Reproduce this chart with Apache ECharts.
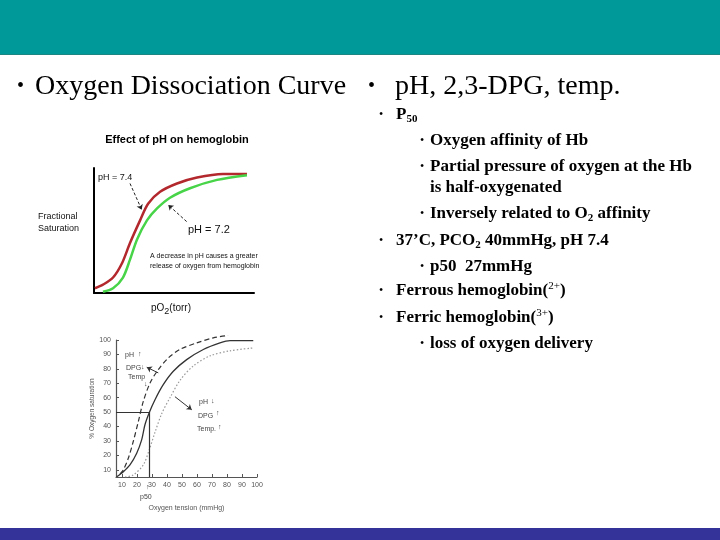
<!DOCTYPE html>
<html>
<head>
<meta charset="utf-8">
<script src="https://cdn.jsdelivr.net/npm/echarts@6/dist/echarts.min.js"></script>
<style>
  html, body { margin: 0; background: #fff; }
  #chart { width: 720px; height: 540px; }
</style>
</head>
<body>
<div id="chart"></div>
<script>
// --- "Effect of pH on hemoglobin" (pO2 0-100, fractional saturation) ---
const ph74X = [0.6, 5.6, 11.9, 17.5, 22.5, 28.8, 33.8, 41.3, 51.9, 64.4, 80.6, 95.6];
const ph74Y = [0.04, 0.07, 0.13, 0.25, 0.42, 0.61, 0.75, 0.85, 0.92, 0.97, 1.0, 1.0];
const ph72X = [5.6, 11.9, 18.1, 22.5, 26.9, 33.1, 39.4, 47.5, 60, 76.9, 95.6];
const ph72Y = [0.01, 0.04, 0.13, 0.28, 0.45, 0.61, 0.71, 0.80, 0.88, 0.95, 0.99];

// --- classic dissociation curve (oxygen tension mmHg, % saturation) ---
const normalX = [6.5, 10.9, 15.3, 19.8, 23.1, 25.3, 28.2, 32, 37.5, 44.2, 53.1, 64.2, 75.3, 82, 97.5];
const normalY = [5.2, 8.7, 13.4, 21.5, 30.7, 41.2, 49.7, 58.6, 69, 78.3, 86.4, 93.4, 98, 99.6, 99.6];
const leftX = [8.7, 10.9, 14.2, 17.5, 20.9, 24.2, 28.7, 34.2, 40.9, 48.7, 59.8, 70.9, 80.7];
const leftY = [7.1, 9.9, 18, 29.6, 43.5, 57.4, 70.2, 79.5, 87.6, 93.5, 98, 101.5, 103.1];
const rightX = [12, 17.5, 24.2, 28.2, 32, 36.5, 42, 48.7, 57.5, 68.7, 82, 97.5];
const rightY = [5, 6.4, 13.4, 24, 36, 49, 60, 72, 82, 89, 92.5, 94.5];
const p50 = 28;
const tensionTicks = [10, 20, 30, 40, 50, 60, 70, 80, 90, 100];
const saturationTicks = [10, 20, 30, 40, 50, 60, 70, 80, 90, 100];

const pairs = (xs, ys) => xs.map((x, i) => [x, ys[i]]);

const serif = "'Liberation Serif', 'Times New Roman', serif";
const sans = "'Liberation Sans', Arial, sans-serif";

// right-hand bullet list
const notes = [
  { lvl: 1, y: 115, text: '{b|P}{bs|50}' },
  { lvl: 2, y: 141, text: '{b|Oxygen affinity of Hb}' },
  { lvl: 2, y: 167, text: '{b|Partial pressure of oxygen at the Hb}' },
  { lvl: 0, y: 188, text: '{b|is half-oxygenated}' },
  { lvl: 2, y: 214, text: '{b|Inversely related to O}{bs|2}{b| affinity}' },
  { lvl: 1, y: 241, text: '{b|37’C, PCO}{bs|2}{b| 40mmHg, pH 7.4}' },
  { lvl: 2, y: 267, text: '{b|p50  27mmHg}' },
  { lvl: 1, y: 291, text: '{b|Ferrous hemoglobin(}{sp|2+}{b|)}' },
  { lvl: 1, y: 318, text: '{b|Ferric hemoglobin(}{sp|3+}{b|)}' },
  { lvl: 2, y: 344, text: '{b|loss of oxygen delivery}' }
];
const noteRich = {
  b: { fontFamily: serif, fontSize: 17, fontWeight: 'bold', fill: '#000' },
  bs: { fontFamily: serif, fontSize: 11, fontWeight: 'bold', fill: '#000', padding: [8, 0, 0, 0] },
  sp: { fontFamily: serif, fontSize: 11, fill: '#000', padding: [0, 0, 10, 0] }
};

const graphic = [
  { type: 'rect', shape: { x: 0, y: 0, width: 720, height: 54 }, style: { fill: '#009999' } },
  { type: 'rect', shape: { x: 0, y: 54, width: 720, height: 1 }, style: { fill: '#1c8683' } },
  { type: 'rect', shape: { x: 0, y: 528, width: 720, height: 12 }, style: { fill: '#333399' } },
  { type: 'text', x: 17, y: 87, style: { text: '•', font: '20px ' + serif, fill: '#000', verticalAlign: 'middle' } },
  { type: 'text', x: 35, y: 87, style: { text: 'Oxygen Dissociation Curve', font: '28px ' + serif, fill: '#000', verticalAlign: 'middle' } },
  { type: 'text', x: 368, y: 87, style: { text: '•', font: '20px ' + serif, fill: '#000', verticalAlign: 'middle' } },
  { type: 'text', x: 395, y: 87, style: { text: 'pH, 2,3-DPG, temp.', font: '28px ' + serif, fill: '#000', verticalAlign: 'middle' } },
  // top figure labels
  { type: 'text', x: 177, y: 140, style: { text: 'Effect of pH on hemoglobin', font: 'bold 11px ' + sans, fill: '#000', align: 'center', verticalAlign: 'middle' } },
  { type: 'text', x: 98, y: 178, style: { text: 'pH = 7.4', font: '9px ' + sans, fill: '#111', verticalAlign: 'middle' } },
  { type: 'text', x: 188, y: 230, style: { text: 'pH = 7.2', font: '11px ' + sans, fill: '#111', verticalAlign: 'middle' } },
  { type: 'text', x: 38, y: 217, style: { text: 'Fractional', font: '9px ' + sans, fill: '#111', verticalAlign: 'middle' } },
  { type: 'text', x: 38, y: 229, style: { text: 'Saturation', font: '9px ' + sans, fill: '#111', verticalAlign: 'middle' } },
  { type: 'text', x: 150, y: 256, style: { text: 'A decrease in pH causes a greater', font: '7px ' + sans, fill: '#111', verticalAlign: 'middle' } },
  { type: 'text', x: 150, y: 266, style: { text: 'release of oxygen from hemoglobin', font: '7px ' + sans, fill: '#111', verticalAlign: 'middle' } },
  {
    type: 'text', x: 151, y: 308,
    style: {
      text: '{n|pO}{s|2}{n|(torr)}', verticalAlign: 'middle',
      rich: {
        n: { fontFamily: sans, fontSize: 10, fill: '#111' },
        s: { fontFamily: sans, fontSize: 9, fill: '#111', padding: [7, 0, 0, 0] }
      }
    }
  }
];

// bottom figure annotations
const annotations = [
  ['pH', 125, 355], ['↑', 138, 354], ['DPG', 126, 368], ['↓', 141, 367], ['Temp', 128, 377], ['↓', 144, 384],
  ['pH', 199, 402], ['↓', 211, 401], ['DPG', 198, 416], ['↑', 216, 413], ['Temp.', 197, 429], ['↑', 218, 427],
  ['↑', 146, 487], ['p50', 140, 497]
];
annotations.forEach(([t, x, y]) => {
  graphic.push({ type: 'text', x, y, style: { text: t, font: '7px ' + sans, fill: '#444', verticalAlign: 'middle' } });
});

notes.forEach((n) => {
  if (n.lvl === 1) {
    graphic.push({ type: 'text', x: 379, y: n.y, style: { text: '•', font: '12px ' + serif, fill: '#000', verticalAlign: 'middle' } });
  } else if (n.lvl === 2) {
    graphic.push({ type: 'text', x: 420, y: n.y, style: { text: '•', font: '12px ' + serif, fill: '#000', verticalAlign: 'middle' } });
  }
  graphic.push({
    type: 'text', x: n.lvl === 1 ? 396 : 430, y: n.y,
    style: { text: n.text, rich: noteRich, verticalAlign: 'middle' }
  });
});

const arrowLine = (from, to, type, color) => ({
  silent: true,
  symbol: ['none', 'arrow'],
  symbolSize: 5,
  label: { show: false },
  lineStyle: { type, color, width: 1 },
  data: [[{ coord: from }, { coord: to }]]
});

const chart = echarts.init(document.getElementById('chart'));
chart.setOption({
  backgroundColor: '#fff',
  animation: false,
  grid: [
    { left: 94, top: 168, width: 160, height: 125 },
    { left: 116, top: 340, width: 141, height: 137 }
  ],
  xAxis: [
    {
      type: 'value', gridIndex: 0, min: 0, max: 100,
      axisLine: { lineStyle: { color: '#000', width: 2 } },
      axisTick: { show: false }, axisLabel: { show: false }, splitLine: { show: false }
    },
    {
      type: 'value', gridIndex: 1, min: 6, max: 100,
      name: 'Oxygen tension (mmHg)', nameLocation: 'middle', nameGap: 28,
      nameTextStyle: { fontFamily: sans, fontSize: 7, color: '#555' },
      axisLine: { lineStyle: { color: '#555', width: 1.2 } },
      axisTick: { inside: true, length: 3, customValues: tensionTicks, lineStyle: { color: '#555' } },
      axisLabel: { customValues: tensionTicks, fontFamily: sans, fontSize: 7, color: '#555', margin: 5 },
      splitLine: { show: false }
    }
  ],
  yAxis: [
    {
      type: 'value', gridIndex: 0, min: 0, max: 1.05,
      axisLine: { show: true, lineStyle: { color: '#000', width: 2 } },
      axisTick: { show: false }, axisLabel: { show: false }, splitLine: { show: false }
    },
    {
      type: 'value', gridIndex: 1, min: 5, max: 100,
      name: '% Oxygen saturation', nameLocation: 'middle', nameGap: 19, nameRotate: 90,
      nameTextStyle: { fontFamily: sans, fontSize: 6.5, color: '#555' },
      axisLine: { show: true, lineStyle: { color: '#555', width: 1.2 } },
      axisTick: { show: true, inside: true, length: 3, customValues: saturationTicks, lineStyle: { color: '#555' } },
      axisLabel: { customValues: saturationTicks, fontFamily: sans, fontSize: 7, color: '#555', margin: 5 },
      splitLine: { show: false }
    }
  ],
  series: [
    {
      name: 'pH = 7.4', type: 'line', xAxisIndex: 0, yAxisIndex: 0, smooth: 0.3, symbol: 'none',
      data: pairs(ph74X, ph74Y),
      lineStyle: { color: '#b3282d', width: 2.5 },
      markLine: arrowLine([22.5, 0.92], [29.8, 0.70], [3, 2], '#222')
    },
    {
      name: 'pH = 7.2', type: 'line', xAxisIndex: 0, yAxisIndex: 0, smooth: 0.3, symbol: 'none',
      data: pairs(ph72X, ph72Y),
      lineStyle: { color: '#48d448', width: 2.5 },
      markLine: arrowLine([57.9, 0.60], [46.4, 0.74], [3, 2], '#222')
    },
    {
      name: 'normal', type: 'line', xAxisIndex: 1, yAxisIndex: 1, smooth: 0.3, symbol: 'none',
      data: pairs(normalX, normalY),
      lineStyle: { color: '#333', width: 1.3 },
      markLine: {
        silent: true, symbol: 'none', label: { show: false },
        lineStyle: { type: 'solid', color: '#333', width: 1.2 },
        data: [
          [{ coord: [6, 50] }, { coord: [p50, 50] }],
          [{ coord: [p50, 50] }, { coord: [p50, 5] }]
        ]
      }
    },
    {
      name: 'left shift', type: 'line', xAxisIndex: 1, yAxisIndex: 1, smooth: 0.3, symbol: 'none', clip: false,
      data: pairs(leftX, leftY),
      lineStyle: { color: '#333', width: 1.2, type: [5, 3] },
      markLine: arrowLine([34.2, 77.2], [26.5, 81.1], 'solid', '#333')
    },
    {
      name: 'right shift', type: 'line', xAxisIndex: 1, yAxisIndex: 1, smooth: 0.3, symbol: 'none',
      data: pairs(rightX, rightY),
      lineStyle: { color: '#999', width: 1.2, type: [1.5, 2] },
      markLine: arrowLine([45.3, 60.7], [56.5, 51.6], 'solid', '#333')
    }
  ],
  graphic
});
</script>
</body>
</html>
